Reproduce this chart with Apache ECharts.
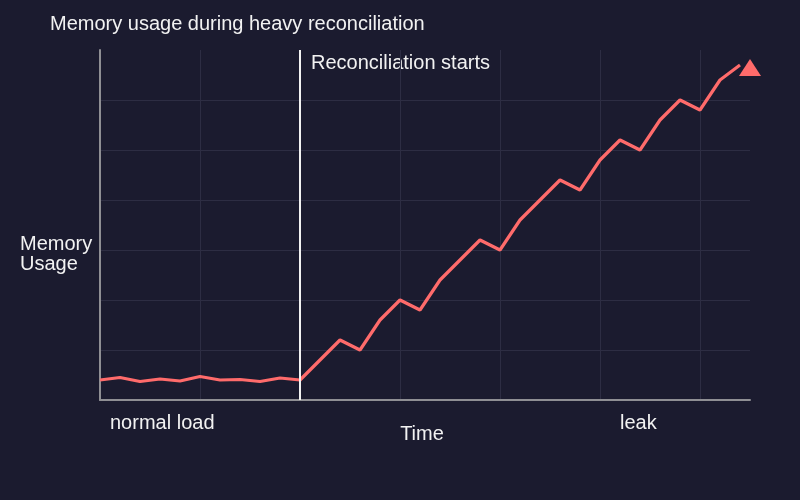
<!DOCTYPE html>
<html>
<head>
<meta charset="utf-8">
<script src="https://cdn.jsdelivr.net/npm/echarts@6/dist/echarts.min.js"></script>
<style>
  html, body { margin: 0; padding: 0; background: #1b1b2f; }
  #chart { width: 800px; height: 500px; }
</style>
</head>
<body>
<div id="chart"></div>
<script>
// time steps (arbitrary units) and memory values
const timeSteps = [0, 2, 4, 6, 8, 10, 12, 14, 16, 18, 20,
  22, 24, 26, 28, 30, 32, 34, 36, 38, 40, 42, 44, 46, 48, 50, 52, 54, 56, 58, 60, 62, 64];
const memoryUsage = [0.4, 0.45, 0.37, 0.42, 0.38, 0.47, 0.4, 0.41, 0.37, 0.44, 0.4,
  0.8, 1.2, 1.0, 1.6, 2.0, 1.8, 2.4, 2.8, 3.2, 3.0, 3.6, 4.0, 4.4, 4.2, 4.8, 5.2, 5.0, 5.6, 6.0, 5.8, 6.4, 6.7];
const arrowHead = [65, 6.65];
const reconcileStart = 20;

const TEXT = '#f2f2f2';
const FONT = '"Liberation Sans", Arial, sans-serif';

const chart = echarts.init(document.getElementById('chart'), null, { renderer: 'canvas' });

chart.setOption({
  backgroundColor: '#1b1b2f',
  animation: false,
  textStyle: { fontFamily: FONT },
  title: {
    text: 'Memory usage during heavy reconciliation',
    left: 45,
    top: 9,
    textStyle: { color: TEXT, fontSize: 20, fontWeight: 'normal', fontFamily: FONT },
  },
  grid: { left: 100, right: 50, top: 50, bottom: 100 },
  xAxis: {
    type: 'value',
    min: 0,
    max: 65,
    interval: 10,
    name: 'Time',
    nameLocation: 'middle',
    nameGap: 24,
    nameTextStyle: { color: TEXT, fontSize: 20, fontFamily: FONT, padding: [0, 6, 0, 0] },
    axisLine: { show: true, onZero: false, lineStyle: { color: '#8f8f94', width: 2 } },
    axisTick: { show: false },
    axisLabel: { show: false },
    splitLine: { show: true, showMaxLine: false, lineStyle: { color: '#2d2d43', width: 1 } },
  },
  yAxis: {
    type: 'value',
    min: 0,
    max: 7,
    interval: 1,
    axisLine: { show: true, lineStyle: { color: '#8f8f94', width: 2 } },
    axisTick: { show: false },
    axisLabel: { show: false },
    splitLine: { show: true, showMaxLine: false, lineStyle: { color: '#2d2d43', width: 1 } },
  },
  series: [
    {
      type: 'line',
      data: timeSteps.map((t, i) => [t, memoryUsage[i]]),
      symbol: 'none',
      lineStyle: { color: '#ff6b6b', width: 3.2 },
      z: 3,
      markLine: {
        silent: true,
        symbol: 'none',
        label: { show: false },
        lineStyle: { color: '#f2f2f2', width: 2, type: 'solid' },
        data: [{ xAxis: reconcileStart }],
      },
    },
    {
      type: 'scatter',
      data: [arrowHead],
      symbol: 'triangle',
      symbolSize: [22, 17],
      itemStyle: { color: '#ff6b6b', opacity: 1 },
      z: 4,
    },
  ],
  graphic: [
    { type: 'text', left: 311, top: 53, style: { text: 'Reconciliation starts', fill: TEXT, font: '20px ' + FONT } },
    { type: 'text', left: 20, top: 234, style: { text: 'Memory\nUsage', fill: TEXT, font: '20px ' + FONT, lineHeight: 20 } },
    { type: 'text', left: 110, top: 413, style: { text: 'normal load', fill: TEXT, font: '20px ' + FONT } },
    { type: 'text', left: 620, top: 413, style: { text: 'leak', fill: TEXT, font: '20px ' + FONT } },
  ],
});
</script>
</body>
</html>
